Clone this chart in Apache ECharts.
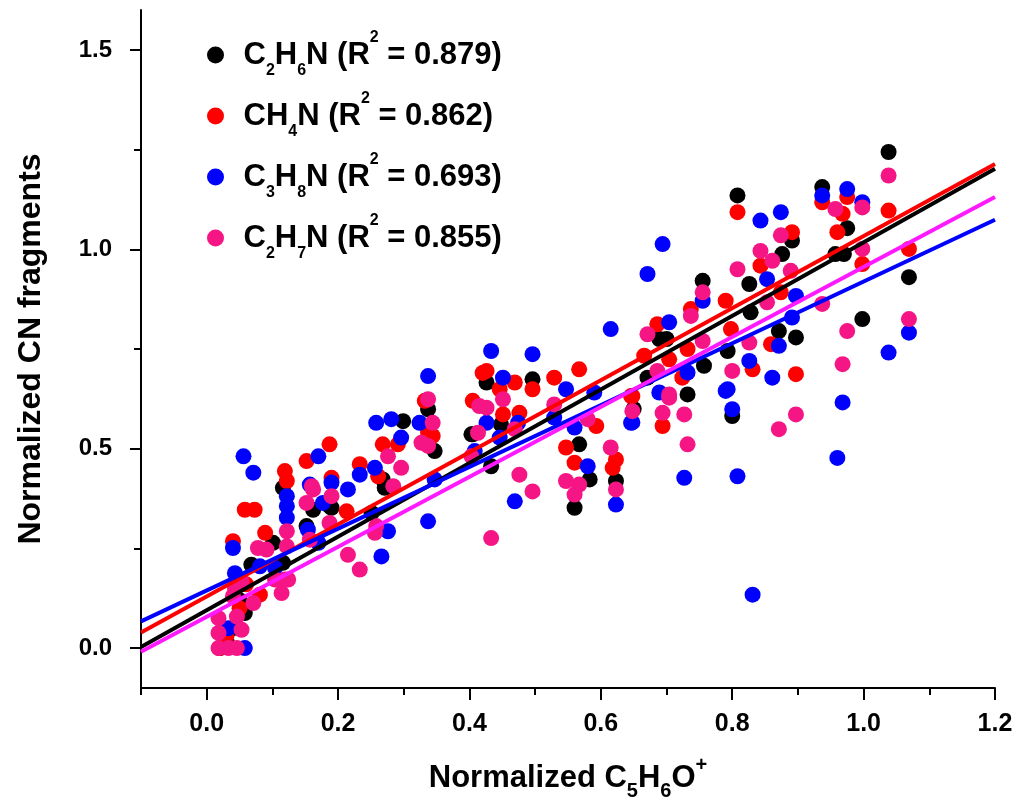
<!DOCTYPE html>
<html>
<head>
<meta charset="utf-8">
<title>Normalized CN fragments vs C5H6O+</title>
<script src="https://cdn.jsdelivr.net/npm/echarts@6/dist/echarts.min.js"></script>
<style>
  html, body { margin: 0; padding: 0; background: #fff; }
  #chart { width: 1018px; height: 810px; }
</style>
</head>
<body>
<div id="chart"></div>
<script>
// x = normalized C5H6O+, y = normalized CN fragment, one [x, y] pair per sample
const c2h6n = [
  [1.038,1.244],[0.808,1.135],[0.937,1.156],[0.975,1.053],[0.891,1.022],[0.876,0.988],[0.957,0.988],
  [0.970,0.988],[1.069,0.930],[0.755,0.921],[0.826,0.913],[0.828,0.842],[0.998,0.825],[0.871,0.795],
  [0.897,0.779],[0.793,0.745],[0.757,0.708],[0.671,0.678],[0.732,0.636],[0.689,0.775],[0.700,0.775],
  [0.800,0.582],[0.426,0.666],[0.496,0.674],[0.448,0.561],[0.403,0.536],[0.433,0.456],[0.567,0.511],
  [0.583,0.423],[0.560,0.352],[0.623,0.419],[0.347,0.494],[0.337,0.599],[0.405,0.536],[0.116,0.402],
  [0.101,0.264],[0.068,0.209],[0.116,0.214],[0.058,0.088],[0.162,0.347],[0.190,0.352],[0.152,0.306],
  [0.299,0.569],[0.268,0.423],[0.251,0.339],[0.271,0.402],[0.187,0.356],[0.020,0.000],[0.040,0.050],
  [0.050,0.120],[0.030,0.020],[0.650,0.600]
];
const ch4n = [
  [0.808,1.093],[0.937,1.118],[0.975,1.131],[0.968,1.089],[1.038,1.097],[0.891,1.043],[0.960,1.043],
  [1.069,1.001],[0.843,0.959],[0.998,0.963],[0.874,0.892],[0.790,0.871],[0.737,0.850],[0.686,0.812],
  [0.798,0.800],[0.732,0.750],[0.704,0.724],[0.666,0.733],[0.859,0.762],[0.831,0.699],[0.897,0.687],
  [0.724,0.678],[0.694,0.557],[0.648,0.632],[0.426,0.695],[0.469,0.666],[0.496,0.649],[0.529,0.678],
  [0.567,0.699],[0.646,0.632],[0.446,0.649],[0.405,0.620],[0.451,0.586],[0.476,0.590],[0.593,0.557],
  [0.547,0.503],[0.560,0.465],[0.623,0.473],[0.618,0.452],[0.337,0.540],[0.420,0.690],[0.332,0.620],
  [0.344,0.532],[0.268,0.511],[0.291,0.511],[0.233,0.461],[0.261,0.431],[0.213,0.343],[0.187,0.511],
  [0.152,0.469],[0.190,0.427],[0.058,0.347],[0.073,0.347],[0.119,0.444],[0.122,0.419],[0.089,0.289],
  [0.040,0.268],[0.081,0.134],[0.030,0.030],[0.050,0.100],[0.060,0.160],[0.020,0.000]
];
const c3h8n = [
  [0.975,1.151],[0.937,1.135],[0.998,1.118],[0.874,1.093],[0.843,1.072],[0.694,1.013],[0.671,0.938],
  [0.853,0.925],[0.755,0.871],[0.897,0.883],[0.704,0.817],[0.891,0.829],[0.871,0.758],[0.826,0.720],
  [0.732,0.691],[1.069,0.791],[1.038,0.741],[0.861,0.678],[0.793,0.649],[0.689,0.641],[0.790,0.645],
  [0.800,0.599],[0.968,0.616],[0.960,0.477],[0.727,0.427],[0.808,0.431],[0.831,0.134],[0.648,0.566],
  [0.615,0.800],[0.433,0.745],[0.496,0.737],[0.337,0.682],[0.451,0.678],[0.547,0.649],[0.590,0.641],
  [0.646,0.565],[0.474,0.565],[0.426,0.565],[0.529,0.578],[0.560,0.553],[0.446,0.528],[0.408,0.494],
  [0.580,0.456],[0.623,0.360],[0.469,0.368],[0.337,0.318],[0.324,0.565],[0.347,0.423],[0.056,0.481],
  [0.071,0.440],[0.122,0.381],[0.122,0.356],[0.122,0.327],[0.040,0.251],[0.081,0.205],[0.104,0.201],
  [0.043,0.188],[0.033,0.050],[0.058,0.000],[0.157,0.410],[0.170,0.481],[0.190,0.415],[0.177,0.364],
  [0.215,0.398],[0.154,0.297],[0.170,0.264],[0.266,0.230],[0.258,0.565],[0.281,0.574],[0.296,0.528],
  [0.256,0.452],[0.233,0.435],[0.276,0.293]
];
const c2h7n = [
  [1.038,1.185],[0.957,1.101],[0.998,1.105],[0.874,1.035],[0.843,0.996],[0.861,0.971],[0.998,1.001],
  [0.808,0.950],[0.889,0.946],[0.755,0.892],[0.853,0.867],[0.937,0.863],[0.737,0.833],[0.671,0.787],
  [0.755,0.770],[0.826,0.766],[0.975,0.795],[1.069,0.825],[0.800,0.695],[0.968,0.712],[0.704,0.636],
  [0.686,0.695],[0.704,0.628],[0.694,0.590],[0.727,0.586],[0.732,0.511],[0.897,0.586],[0.871,0.549],
  [0.648,0.594],[0.451,0.624],[0.426,0.603],[0.469,0.549],[0.529,0.611],[0.580,0.574],[0.413,0.540],
  [0.403,0.481],[0.547,0.419],[0.567,0.410],[0.560,0.385],[0.615,0.503],[0.623,0.398],[0.476,0.435],
  [0.496,0.393],[0.433,0.276],[0.337,0.624],[0.344,0.565],[0.337,0.507],[0.415,0.607],[0.122,0.293],
  [0.122,0.255],[0.078,0.251],[0.091,0.247],[0.119,0.172],[0.114,0.138],[0.071,0.113],[0.053,0.167],
  [0.043,0.151],[0.040,0.130],[0.046,0.079],[0.018,0.075],[0.053,0.046],[0.018,0.038],[0.018,0.000],
  [0.033,0.000],[0.046,0.000],[0.104,0.172],[0.124,0.172],[0.162,0.398],[0.152,0.364],[0.190,0.381],
  [0.187,0.314],[0.157,0.272],[0.215,0.234],[0.233,0.197],[0.276,0.481],[0.296,0.452],[0.284,0.406],
  [0.258,0.306],[0.256,0.289],[0.327,0.515],[0.160,0.406]
];

// linear fits, end points at the x-axis limits
const fitC2H6N = [[-0.1, 0.003], [1.2, 1.202]];
const fitCH4N  = [[-0.1, 0.039], [1.2, 1.214]];
const fitC3H8N = [[-0.1, 0.067], [1.2, 1.074]];
const fitC2H7N = [[-0.1, -0.009], [1.2, 1.131]];

const names = ["C2H6N", "CH4N", "C3H8N", "C2H7N"];
const r2 = ["0.879", "0.862", "0.693", "0.855"];

const xMajor = [0, 0.2, 0.4, 0.6, 0.8, 1.0, 1.2];
const xMinor = [-0.1, 0.1, 0.3, 0.5, 0.7, 0.9, 1.1];
const yMajor = [0, 0.5, 1.0, 1.5];
const yMinor = [0.25, 0.75, 1.25];

const FONT = "'Liberation Sans', Arial, Helvetica, sans-serif";
const pointColors = ["#000000", "#ff0000", "#0000ff", "#f51585"];
const lineColors  = ["#000000", "#ff0000", "#0000ff", "#ff19ff"];

// "C2H6N" -> rich text with subscript digits
function chem(formula, main) {
  return formula.replace(/(\d+)|([^\d]+)/g, (m, d, t) => d ? `{s|${d}}` : `{${main}|${t}}`);
}

const legendText = {};
names.forEach((n, i) => {
  legendText[n] = chem(n, "t") + `{t| (R}{p|2}{t| = ${r2[i]})}`;
});

const tickAxis = (extra) => Object.assign({
  type: "value",
  axisLine: { show: false, onZero: false },
  splitLine: { show: false },
  axisLabel: { show: false },
}, extra);

const chart = echarts.init(document.getElementById("chart"), null, { renderer: "canvas" });

const scatter = [c2h6n, ch4n, c3h8n, c2h7n].map((d, i) => ({
  name: names[i],
  type: "scatter",
  data: d,
  symbol: "circle",
  symbolSize: 16,
  itemStyle: { color: pointColors[i], opacity: 1 },
  z: 2,
}));

const fits = [fitC2H6N, fitCH4N, fitC3H8N, fitC2H7N].map((d, i) => ({
  name: "fit " + names[i],
  type: "line",
  data: d,
  showSymbol: false,
  lineStyle: { color: lineColors[i], width: 4 },
  silent: true,
  z: 3,
}));

chart.setOption({
  animation: false,
  backgroundColor: "#fff",
  textStyle: { fontFamily: FONT, fontWeight: "bold", color: "#000" },
  grid: { left: 141, right: 23, top: 10, bottom: 122, containLabel: false, outerBoundsMode: "none" },
  legend: {
    data: names,
    orient: "vertical",
    left: 207,
    top: 30,
    padding: 0,
    itemGap: 11,
    itemWidth: 46,
    itemHeight: 17,
    icon: "circle",
    selectedMode: false,
    formatter: (n) => legendText[n],
    textStyle: {
      rich: {
        t: { fontFamily: FONT, fontWeight: "bold", fontSize: 31, lineHeight: 46, color: "#000" },
        s: { fontFamily: FONT, fontWeight: "bold", fontSize: 16, lineHeight: 16, padding: [32, 0, 0, 0], color: "#000" },
        p: { fontFamily: FONT, fontWeight: "bold", fontSize: 16, lineHeight: 16, padding: [0, 0, 34, 0], color: "#000" },
      },
    },
  },
  xAxis: [
    {
      type: "value",
      min: -0.1,
      max: 1.2,
      position: "bottom",
      axisLine: { onZero: false, lineStyle: { color: "#000", width: 2 } },
      axisTick: { customValues: xMajor, length: 12, lineStyle: { color: "#000", width: 2 } },
      axisLabel: {
        customValues: xMajor, margin: 24, fontSize: 25, fontWeight: "bold", fontFamily: FONT, color: "#000",
        formatter: (v) => v.toFixed(1),
      },
      splitLine: { show: false },
      name: "{n|Normalized C}{s|5}{n|H}{s|6}{n|O}{p|+}",
      nameLocation: "middle",
      nameGap: 70,
      nameTextStyle: {
        rich: {
          n: { fontFamily: FONT, fontWeight: "bold", fontSize: 31, lineHeight: 40, color: "#000" },
          s: { fontFamily: FONT, fontWeight: "bold", fontSize: 20, lineHeight: 20, padding: [26, 0, 0, 0], color: "#000" },
          p: { fontFamily: FONT, fontWeight: "bold", fontSize: 20, lineHeight: 20, padding: [0, 0, 26, 0], color: "#000" },
        },
      },
    },
    tickAxis({
      min: -0.1, max: 1.2, position: "bottom",
      axisTick: { customValues: xMinor, length: 7, lineStyle: { color: "#000", width: 2 } },
    }),
  ],
  yAxis: [
    {
      type: "value",
      min: -0.1,
      max: 1.6,
      position: "left",
      axisLine: { onZero: false, lineStyle: { color: "#000", width: 2 } },
      axisTick: { customValues: yMajor, length: 11, lineStyle: { color: "#000", width: 2 } },
      axisLabel: {
        customValues: yMajor, margin: 29, fontSize: 24, fontWeight: "bold", fontFamily: FONT, color: "#000",
        formatter: (v) => v.toFixed(1),
      },
      splitLine: { show: false },
      name: "Normalized CN fragments",
      nameLocation: "middle",
      nameGap: 94,
      nameTextStyle: { fontFamily: FONT, fontWeight: "bold", fontSize: 32, color: "#000" },
    },
    tickAxis({
      min: -0.1, max: 1.6, position: "left",
      axisTick: { customValues: yMinor, length: 7, lineStyle: { color: "#000", width: 2 } },
    }),
  ],
  series: scatter.concat(fits),
});
</script>
</body>
</html>
